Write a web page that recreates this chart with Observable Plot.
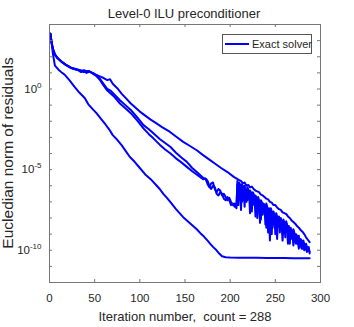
<!DOCTYPE html>
<html><head><meta charset="utf-8">
<script src="https://cdn.jsdelivr.net/npm/d3@7"></script>
<script src="https://cdn.jsdelivr.net/npm/@observablehq/plot@0.6"></script>
<style>
html,body{margin:0;padding:0;background:#fff;}
#wrap{position:relative;width:354px;height:327px;overflow:hidden;font-family:"Liberation Sans",Arial,Helvetica,sans-serif;color:#262626;}
#wrap svg.chart{position:absolute;left:0;top:0;}
.lbl{position:absolute;white-space:nowrap;text-align:center;}
#title{left:34px;top:7px;width:300px;font-size:13px;line-height:13px;}
#xlabel{left:35px;top:310px;width:300px;font-size:13px;line-height:13px;}
#ylabel{left:-122px;top:144.5px;width:260px;height:16px;font-size:15.5px;line-height:16px;transform:rotate(-90deg);}
#legend{position:absolute;left:222px;top:34px;width:90px;height:20px;box-sizing:border-box;border:1px solid #555;background:#fff;}
#legend .sw{position:absolute;left:2px;top:8px;width:24px;height:2px;background:#0000ff;}
#legend .tx{position:absolute;left:29px;top:3px;font-size:11px;line-height:12px;white-space:nowrap;}
</style></head>
<body>
<div id="wrap">
  <div id="title" class="lbl">Level-0 ILU preconditioner</div>
  <div id="xlabel" class="lbl">Iteration number,&nbsp; count = 288</div>
  <div id="ylabel" class="lbl">Eucledian norm of residuals</div>
</div>
<script>
// ---- data (residual norms stored as log10 values) ----
const titleText = "Level-0 ILU preconditioner";
const legendLabel = "Exact solver";
const xTicks = [0, 50, 100, 150, 200, 250, 300];
const yLabelExponents = [0, -5, -10];
const yMinorExponents = [-12,-11,-10,-9,-8,-7,-6,-5,-4,-3,-2,-1,0,1,2,3,4];

// fast-converging run
const fastIter = [1,2,4,6,10,14,17,22,28,33,39,43,47,52,57,62,66,70,75,80,85,89,94,100,106,113,118,122,126,130,135,140,144,148,153,158,163,167,171,175,178,181,184,187,191,195,200,210,220,230,240,250,260,270,280,288];
const fastLog = [3.42,3.0,2.1,1.45,1.2,1.0,0.88,0.55,0.12,-0.22,-0.56,-0.95,-1.2,-1.5,-1.85,-2.2,-2.5,-2.86,-3.15,-3.5,-3.9,-4.22,-4.5,-4.9,-5.3,-5.65,-5.95,-6.2,-6.5,-6.75,-7.1,-7.45,-7.7,-7.95,-8.2,-8.45,-8.7,-8.94,-9.15,-9.4,-9.6,-9.79,-9.95,-10.15,-10.37,-10.43,-10.45,-10.46,-10.47,-10.47,-10.48,-10.48,-10.48,-10.49,-10.49,-10.49];

// slowest run (upper edge)
const upperIter = [1,2,3,4,6,9,13,18,24,28,32,35,38,41,45,50,55,60,64,67,70,75,80,85,90,95,100,106,112,118,125,133,140,148,156,163,170,177,183,190,197,204,210,212,214,216,218,220,222,224,226,228,230,232,234,236,238,240,242,244,246,248,250,252,254,256,258,260,262,264,266,268,270,272,274,276,278,280,282,284,286,288];
const upperLog = [3.42,3.0,2.7,2.45,2.15,1.92,1.72,1.52,1.32,1.24,1.18,1.12,1.16,1.1,1.05,0.92,0.8,0.68,0.55,0.6,0.32,0.05,-0.3,-0.6,-0.9,-1.15,-1.4,-1.65,-1.9,-2.12,-2.38,-2.65,-2.95,-3.28,-3.55,-3.8,-4.1,-4.38,-4.62,-4.9,-5.15,-5.45,-5.65,-5.7,-5.85,-5.8,-6.0,-5.95,-6.1,-6.05,-6.2,-6.3,-6.35,-6.4,-6.55,-6.6,-6.7,-6.8,-6.85,-7.0,-7.05,-7.2,-7.2,-7.35,-7.45,-7.5,-7.65,-7.7,-7.75,-7.9,-8.0,-8.15,-8.25,-8.35,-8.5,-8.6,-8.75,-8.85,-9.0,-9.2,-9.35,-9.5];

// two intermediate runs
const midIter = [1,2,3,4,6,9,13,18,24,28,32,35,38,41,44,48,52,56,60,64,68,72,78,84,90,97,104,110,115,122,128,134,140,146,152,158,164,170,173,175,177,179,181,183,185,187,189,191,193,195,197,199,201,203,205,207,
208,209,210,211,212,213,214,215,216,217,218,219,220,221,222,223,224,225,226,227,228,229,230,231,232,233,234,235,236,237,238,239,240,241,242,243,244,245,246,247,248,249,250,251,252,253,254,255,256,257,258,259,260,261,262,263,264,265,266,267,268,269,270,271,272,273,274,275,276,277,278,279,280,281,282,283,284,285,286,287,288];
const midALog = [3.42,3.0,2.7,2.45,2.13,1.9,1.7,1.5,1.3,1.22,1.16,1.05,1.12,1.0,1.08,1.0,0.85,0.62,0.3,0.0,-0.12,-0.35,-0.7,-1.0,-1.3,-1.75,-2.24,-2.5,-2.75,-3.1,-3.35,-3.6,-3.95,-4.25,-4.52,-4.9,-5.2,-5.5,-5.6,-5.9,-6.1,-5.85,-5.8,-6.2,-6.4,-6.2,-6.3,-6.6,-6.5,-6.7,-6.9,-6.75,-7.0,-7.2,-7.1,-7.4,
-5.7,-7.2,-5.8,-6.4,-7.5,-5.9,-6.1,-6.9,-6.0,-6.3,
-7.0,-6.1,-6.2,-6.8,-6.3,-6.4,-7.6,-6.4,-6.5,-7.1,
-6.6,-6.7,-8.0,-6.7,-6.9,-8.3,-6.9,-7.0,-7.8,-7.1,
-7.2,-8.4,-7.1,-7.3,-8.9,-7.4,-9.4,-7.4,-7.6,-8.6,
-7.6,-7.8,-9.0,-7.7,-7.9,-8.5,-7.9,-8.9,-8.0,-8.2,
-8.7,-8.1,-8.3,-9.2,-8.2,-8.4,-8.9,-8.5,-9.6,-8.6,
-8.8,-9.3,-8.7,-8.9,-9.5,-9.0,-9.1,-9.6,-9.1,-9.8,
-9.3,-9.4,-9.9,-9.4,-9.6,-9.8,-9.6,-9.8,-10.0,-9.8,
-10.2];
const midBLog = [3.42,3.0,2.7,2.45,2.13,1.9,1.7,1.5,1.3,1.25,1.2,1.15,1.05,1.12,1.12,0.95,0.8,0.55,0.2,-0.1,-0.3,-0.5,-0.9,-1.2,-1.5,-1.95,-2.44,-2.8,-3.06,-3.45,-3.75,-4.0,-4.3,-4.55,-4.83,-5.1,-5.35,-5.6,-5.55,-5.7,-6.0,-6.2,-6.0,-6.1,-6.5,-6.6,-6.4,-6.5,-6.8,-6.9,-6.7,-6.9,-7.2,-7.1,-7.3,-7.2,
-5.9,-6.2,-6.6,-5.9,-6.1,-7.0,-6.0,-6.3,-7.3,-6.2,
-6.3,-6.9,-6.3,-6.5,-7.7,-6.5,-6.6,-7.2,-6.6,-6.7,
-7.9,-6.8,-6.9,-7.4,-7.0,-7.1,-8.1,-7.1,-7.2,-7.6,
-7.3,-7.4,-8.6,-7.5,-7.6,-8.0,-7.6,-7.8,-9.0,-7.8,
-8.0,-8.4,-8.0,-8.2,-9.3,-8.1,-8.3,-8.6,-8.3,-8.5,
-9.4,-8.5,-8.6,-8.9,-8.6,-8.8,-9.6,-8.8,-9.0,-9.3,
-9.0,-9.1,-9.7,-9.2,-9.3,-9.6,-9.4,-9.5,-9.9,-9.5,
-9.6,-9.9,-9.7,-9.7,-10.0,-9.8,-9.9,-10.1,-9.9,-10.0,
-10.1];

// ---- build table ----
function series(name, its, logs) {
  const n = Math.min(its.length, logs.length);
  const out = [];
  for (let i = 0; i < n; i++) out.push({s: name, it: its[i], r: Math.pow(10, logs[i])});
  return out;
}
const rows = [].concat(
  series("fast", fastIter, fastLog),
  series("upper", upperIter, upperLog),
  series("midA", midIter, midALog),
  series("midB", midIter, midBLog)
);

const W = 354, H = 327, mL = 49, mR = 34, mT = 24, mB = 45;
const innerW = W - mL - mR, innerH = H - mT - mB;
const axisColor = "#777";
const decades = yMinorExponents.map(e => Math.pow(10, e));
const labelDecades = yLabelExponents.map(e => Math.pow(10, e));

const chart = Plot.plot({
  width: W, height: H,
  marginLeft: mL, marginRight: mR, marginTop: mT, marginBottom: mB,
  style: {fontFamily: "'Liberation Sans', Arial, Helvetica, sans-serif", fontSize: "11.5px", color: "#262626", background: "transparent", overflow: "visible"},
  x: {domain: [0, 300]},
  y: {type: "log", domain: [1e-12, 1e4]},
  marks: [
    Plot.line(rows, {x: "it", y: "r", z: "s", stroke: "#0000ff", strokeWidth: 2, strokeLinejoin: "round"}),
    Plot.frame({stroke: axisColor}),
    Plot.tickX(xTicks, {x: d => d, stroke: axisColor, insetTop: innerH - 3}),
    Plot.tickX(xTicks, {x: d => d, stroke: axisColor, insetBottom: innerH - 3}),
    Plot.tickY(decades, {y: d => d, stroke: axisColor, insetRight: innerW - 3}),
    Plot.tickY(decades, {y: d => d, stroke: axisColor, insetLeft: innerW - 3}),
    Plot.axisX({ticks: xTicks, tickSize: 0, tickPadding: 11, label: null}),
    Plot.axisY({ticks: labelDecades, tickSize: 0, tickPadding: 8, label: null,
      tickFormat: d => "10^" + Math.round(Math.log10(d))})
  ]
});
chart.classList.add("chart");

// superscript exponents on the y tick labels
chart.querySelectorAll('[aria-label="y-axis tick label"] text').forEach(t => {
  const s = t.textContent;
  const parts = s.split("^");
  if (parts.length !== 2) return;
  t.textContent = parts[0];
  const ts = document.createElementNS("http://www.w3.org/2000/svg", "tspan");
  ts.setAttribute("dy", "-5");
  ts.setAttribute("font-size", "8px");
  ts.textContent = parts[1];
  t.appendChild(ts);
});

const wrap = document.getElementById("wrap");
wrap.insertBefore(chart, wrap.firstChild);

// legend
const leg = document.createElement("div");
leg.id = "legend";
leg.innerHTML = '<div class="sw"></div><div class="tx"></div>';
leg.querySelector(".tx").textContent = legendLabel;
wrap.appendChild(leg);
document.getElementById("title").textContent = titleText;
</script>
</body></html>
